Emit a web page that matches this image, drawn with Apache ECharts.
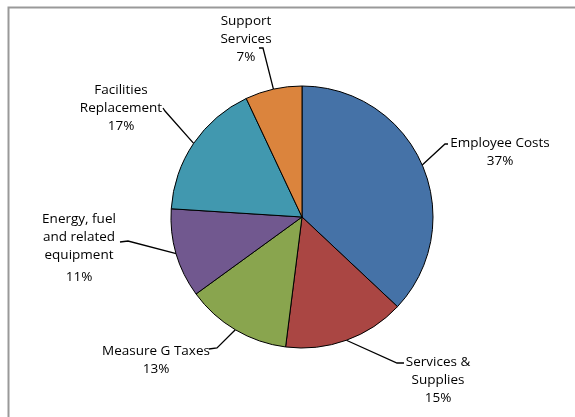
<!DOCTYPE html>
<html>
<head>
<meta charset="utf-8">
<script src="https://cdn.jsdelivr.net/npm/echarts@6/dist/echarts.min.js"></script>
<style>
  html, body { margin: 0; padding: 0; background: #fff; }
  #main { width: 575px; height: 417px; }
</style>
</head>
<body>
<div id="main"></div>
<script>
// data
var names = ['Employee Costs', 'Services &\nSupplies', 'Measure G Taxes',
             'Energy, fuel\nand related\nequipment', 'Facilities\nReplacement', 'Support\nServices'];
var values = [37, 15, 13, 11, 17, 7];
var colors = ['#4572A7', '#AA4643', '#89A54E', '#71588F', '#4198AF', '#DB843D'];

// where each label sits + the elbow of its leader line
var labelSpots = [
    { x: 500, y: 152, elbow: [445, 144], end: [448, 144] },
    { x: 438, y: 380, elbow: [397, 363], end: [404, 363] },
    { x: 156, y: 360, elbow: [217, 348], end: [209, 349] },
    { x: 79,  y: 248, elbow: [128, 241], end: [120, 242] },
    { x: 121, y: 108, elbow: [165, 111], end: [163, 108] },
    { x: 246, y: 39,  elbow: [263, 48],  end: [259, 48] }
];

var pieData = [];
for (var i = 0; i < names.length; i++) {
    pieData.push({ name: names[i], value: values[i], itemStyle: { color: colors[i] } });
}

var myChart = echarts.init(document.getElementById('main'));
var option = {
    animation: false,
    textStyle: { fontFamily: 'Open Sans' },
    graphic: [{
        type: 'rect',
        left: 6, top: 5,
        shape: { width: 620, height: 460 },
        style: { fill: 'none', stroke: '#999', lineWidth: 2 }
    }],
    series: [{
        type: 'pie',
        center: [302, 217],
        radius: 131,
        startAngle: 90,
        clockwise: true,
        data: pieData,
        itemStyle: { borderColor: '#000', borderWidth: 1 },
        label: {
            show: true,
            position: 'outside',
            alignTo: 'none',
            overflow: 'none',
            color: '#000',
            fontSize: 13.5,
            lineHeight: 18,
            fontFamily: 'Open Sans',
            formatter: function (p) {
                if (p.dataIndex === 3) return p.name + '\n{gap|}\n' + p.percent + '%';
                return p.name + '\n' + p.percent + '%';
            },
            rich: { gap: { lineHeight: 4 } }
        },
        labelLine: { show: true, lineStyle: { color: '#000', width: 1.3 } },
        labelLayout: function (params) {
            var s = labelSpots[params.dataIndex];
            var p0 = params.labelLinePoints ? params.labelLinePoints[0] : s.elbow;
            return {
                x: s.x, y: s.y,
                width: 200,
                align: 'center', verticalAlign: 'middle',
                labelLinePoints: [p0, s.elbow, s.end]
            };
        }
    }]
};
myChart.setOption(option);
</script>
</body>
</html>
